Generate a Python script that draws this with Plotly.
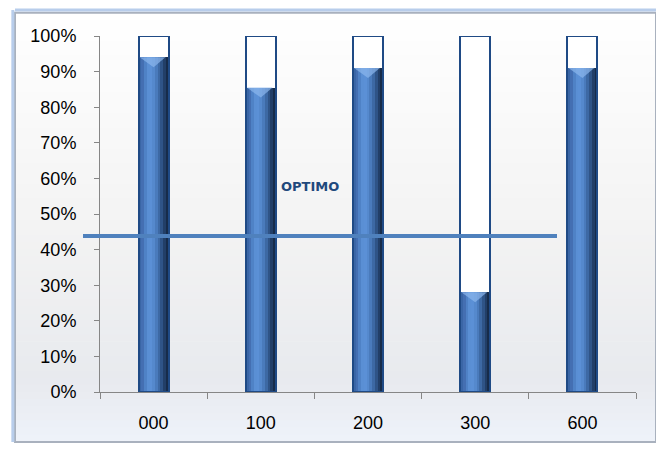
import plotly.graph_objects as go

categories = ["000", "100", "200", "300", "600"]
values = [0.94, 0.855, 0.91, 0.28, 0.91]
capacity = [1.0, 1.0, 1.0, 1.0, 1.0]
optimo_value = 0.438
optimo_label = "OPTIMO"

BAR_W = 0.28
OUTLINE = "#1F4A85"

fig = go.Figure()

# container (white tube)
fig.add_trace(go.Bar(x=categories, y=capacity, width=BAR_W, marker=dict(color="white", line=dict(width=0)),
                     hoverinfo="skip", showlegend=False))

# cylinder shading strips for the blue fill
strip_cols = ["#3A66A6", "#446FB2", "#4F82C6", "#5A8FD4", "#5B90D6", "#5589CD",
              "#4A7BBC", "#3D69A4", "#2F5487", "#223F68", "#172C4A"]
n = len(strip_cols)
sw = BAR_W / n
for i, c in enumerate(strip_cols):
    fig.add_trace(go.Bar(x=categories, y=values, width=sw * 1.05, offset=-BAR_W / 2 + i * sw,
                         marker=dict(color=c, line=dict(width=0)), hoverinfo="skip", showlegend=False))

# meniscus highlight at top of the liquid (on a hidden linear axis aligned to the categories)
mx, my = [], []
for i, v in enumerate(values):
    mx += [i - BAR_W / 2 + 0.01, i + BAR_W / 2 - 0.03, i, i - BAR_W / 2 + 0.01, None]
    my += [v, v, v - 0.028, v, None]
fig.add_trace(go.Scatter(x=mx, y=my, xaxis="x2", mode="lines", fill="toself",
                         fillcolor="rgba(140,182,236,0.7)", line=dict(width=0),
                         hoverinfo="skip", showlegend=False))

# tube outline
fig.add_trace(go.Bar(x=categories, y=capacity, width=BAR_W,
                     marker=dict(color="rgba(0,0,0,0)", line=dict(color=OUTLINE, width=2)),
                     hoverinfo="skip", showlegend=False))

# background panel gradient
shapes = []
x0p, x1p = -0.1586, 1.0373
y0p, y1p = -0.1404, 1.065
stops = [(0.0, (238, 242, 250)), (0.15, (232, 234, 238)), (0.5, (243, 243, 243)), (1.0, (255, 255, 255))]
def col(t):
    for (a, ca), (b, cb) in zip(stops[:-1], stops[1:]):
        if a <= t <= b:
            f = (t - a) / (b - a)
            return "rgb(%d,%d,%d)" % tuple(round(ca[k] + (cb[k] - ca[k]) * f) for k in range(3))
    return "white"
N = 60
for i in range(N):
    ya = y0p + (y1p - y0p) * i / N
    yb = y0p + (y1p - y0p) * (i + 1) / N + 0.002
    shapes.append(dict(type="rect", xref="paper", yref="paper", x0=x0p, x1=x1p, y0=ya, y1=yb,
                       fillcolor=col((i + 0.5) / N), line=dict(width=0), layer="below"))
# panel frame
shapes.append(dict(type="rect", xref="paper", yref="paper", x0=x0p, x1=x1p, y0=y0p, y1=y1p,
                   fillcolor="rgba(0,0,0,0)", line=dict(color="#A9B1BE", width=2), layer="below"))
shapes.append(dict(type="line", xref="paper", yref="paper", x0=x0p - 0.004, x1=x0p - 0.004, y0=y0p, y1=y1p + 0.008,
                   line=dict(color="#B8CDEB", width=3), layer="below"))
shapes.append(dict(type="line", xref="paper", yref="paper", x0=x0p, x1=x1p, y0=y1p + 0.008, y1=y1p + 0.008,
                   line=dict(color="#B8CDEB", width=3), layer="below"))

# optimo line
shapes.append(dict(type="line", xref="paper", yref="y", x0=-0.0317, x1=0.8526, y0=optimo_value, y1=optimo_value,
                   line=dict(color="#4F81BD", width=4), layer="above"))

fig.update_layout(
    width=656, height=449,
    margin=dict(l=100, r=20, t=36, b=57),
    paper_bgcolor="white", plot_bgcolor="rgba(0,0,0,0)",
    barmode="overlay", bargap=0,
    shapes=shapes,
    showlegend=False,
    font=dict(family="Liberation Sans", size=18, color="#000000"),
    annotations=[dict(x=0.392, xref="paper", y=0.576, yref="y", text="<b>%s</b>" % optimo_label,
                      showarrow=False, font=dict(family="DejaVu Sans", size=13, color="#1F497D"))],
    xaxis2=dict(overlaying="x", range=[-0.5, 4.5], visible=False),
    xaxis=dict(type="category", showgrid=False, showline=True, linecolor="#868686", linewidth=1,
               ticks="outside", ticklen=6, tickcolor="#868686", tickson="boundaries",
               range=[-0.5, 4.5], ticklabelstandoff=14),
    yaxis=dict(range=[0, 1], dtick=0.1, tickformat=".0%", showgrid=False, zeroline=False,
               showline=True, linecolor="#868686", linewidth=1, ticks="outside", ticklen=5,
               tickcolor="#868686", ticklabelstandoff=14),
)

fig.write_html("out.html", config={"displayModeBar": False},
               post_script="document.body.style.margin='0px';")
